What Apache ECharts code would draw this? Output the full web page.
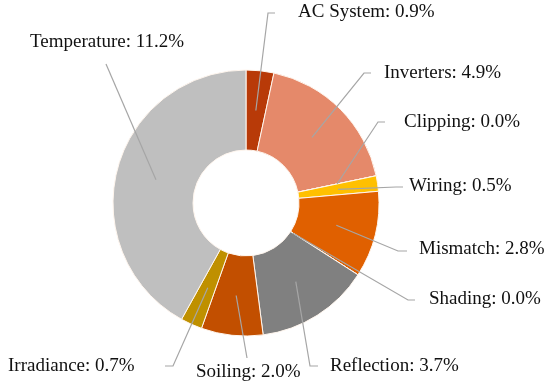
<!DOCTYPE html>
<html>
<head>
<meta charset="utf-8">
<script src="https://cdn.jsdelivr.net/npm/echarts@6/dist/echarts.min.js"></script>
<style>html,body{margin:0;padding:0;background:#fff;}#c{width:550px;height:392px;}</style>
</head>
<body>
<div id="c"></div>
<script>
// ---- data ----
var categories = ['AC System', 'Inverters', 'Clipping', 'Wiring', 'Mismatch', 'Shading', 'Reflection', 'Soiling', 'Irradiance', 'Temperature'];
var values = [0.9, 4.9, 0.0, 0.5, 2.8, 0.0, 3.7, 2.0, 0.7, 11.2];

// ---- styles ----
var colors = ['#B83A08', '#E5896A', '#F08020', '#FFC000', '#E06000', '#707070', '#808080', '#C24F00', '#BF9000', '#BFBFBF'];
// label placement: [textLeft, textMiddleY, cornerX, cornerY, endX, endY, lineStartRadius]
var labelPlacement = [
  [298, 12, 268, 13, 275, 13, 93],
  [384, 73.5, 364, 73, 371, 73, 93],
  [404, 122.5, 378, 122, 385, 122, 93],
  [409, 186.5, 396, 187, 403, 187, 93],
  [419, 249.5, 398, 251, 407, 251, 93],
  [429, 299.5, 408, 300, 415, 300, 56],
  [330, 366, 310, 366, 318, 366, 93],
  [196, 372.5, 247, 358, 247, 358, 93],
  [8, 366, 173, 366, 165, 366, 93],
  [30, 42.5, 106, 64, 106, 64, 93]
];
var CX = 246, CY = 203, R_IN = 53, R_OUT = 133;

var total = values.reduce(function (a, b) { return a + b; }, 0);
function midAngle(i) {
  var cum = 0;
  for (var k = 0; k < i; k++) cum += values[k];
  return (cum + values[i] / 2) / total * Math.PI * 2; // clockwise from top
}

var pieData = categories.map(function (n, i) {
  return { name: n, value: values[i], itemStyle: { color: colors[i] } };
});
var overlayData = categories.map(function (n, i) {
  return { name: n, value: values[i] };
});

var chart = echarts.init(document.getElementById('c'), null, { renderer: 'canvas' });
chart.setOption({
  animation: false,
  backgroundColor: '#ffffff',
  series: [{
    type: 'pie',
    z: 2,
    center: [CX, CY],
    radius: [R_IN, R_OUT],
    startAngle: 90,
    clockwise: true,
    avoidLabelOverlap: false,
    emphasis: { disabled: true },
    silent: true,
    data: pieData,
    itemStyle: { borderColor: '#FFF6EE', borderWidth: 1 },
    label: { show: false },
    labelLine: { show: false }
  }, {
    // overlay carrying labels and leader lines above the slices
    type: 'pie',
    z: 5,
    center: [CX, CY],
    radius: [R_IN, R_OUT],
    startAngle: 90,
    clockwise: true,
    avoidLabelOverlap: false,
    minShowLabelAngle: 0,
    emphasis: { disabled: true },
    silent: true,
    data: overlayData,
    itemStyle: { color: 'rgba(0,0,0,0)', borderWidth: 0 },
    label: {
      show: true,
      position: 'outside',
      formatter: function (p) { return p.name + ': ' + values[p.dataIndex].toFixed(1) + '%'; },
      fontFamily: 'Liberation Serif',
      fontSize: 19,
      color: '#111111'
    },
    labelLine: {
      show: true,
      length: 5,
      length2: 5,
      smooth: false,
      lineStyle: { color: '#A6A6A6', width: 1.2 }
    },
    labelLayout: function (params) {
      var i = params.dataIndex;
      var lp = labelPlacement[i];
      var a = midAngle(i);
      var r = lp[6];
      var sx = CX + r * Math.sin(a), sy = CY - r * Math.cos(a);
      return {
        x: lp[0],
        y: lp[1],
        align: 'left',
        verticalAlign: 'middle',
        labelLinePoints: [[sx, sy], [lp[2], lp[3]], [lp[4], lp[5]]]
      };
    }
  }]
});
</script>
</body>
</html>
